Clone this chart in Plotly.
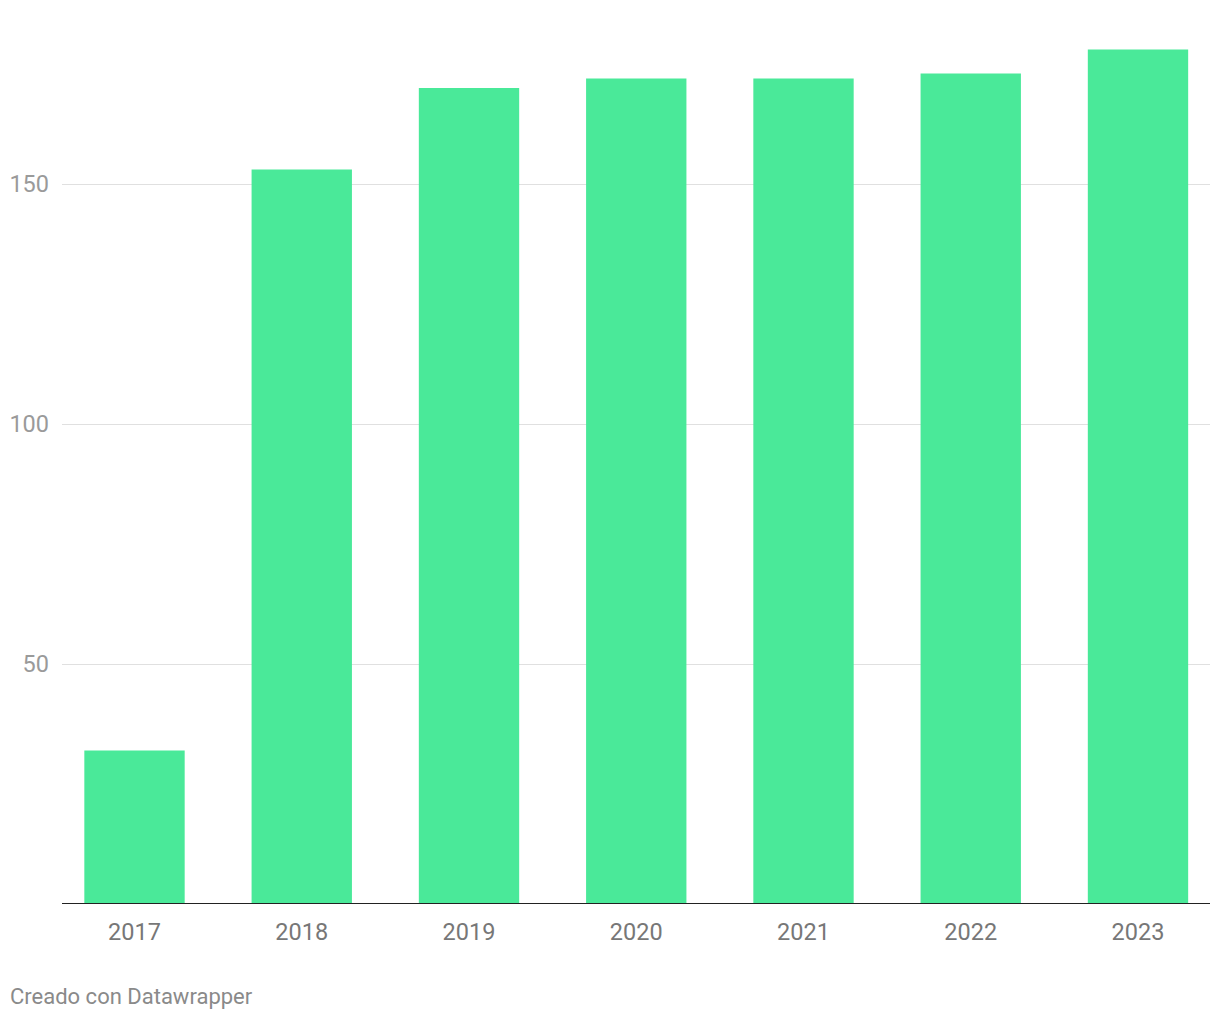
import plotly.graph_objects as go

years = ["2017", "2018", "2019", "2020", "2021", "2022", "2023"]
values = [32, 153, 170, 172, 172, 173, 178]
y_ticks = [50, 100, 150]

fig = go.Figure(go.Bar(
    x=list(range(len(years))), y=values, width=0.6,
    marker=dict(color="#4ae999", line=dict(width=0)),
    hoverinfo="skip",
))

fig.update_layout(
    width=1220, height=1020,
    margin=dict(l=54, r=18, t=0, b=124, autoexpand=False),
    paper_bgcolor="white", plot_bgcolor="white",
    font=dict(family="Roboto", size=23, color="#777"),
    showlegend=False,
    xaxis=dict(
        range=[-0.4335, 6.4305], tickmode="array",
        tickvals=list(range(len(years))), ticktext=years,
        showgrid=False, zeroline=False, showline=False,
        tickfont=dict(size=23.5, color="#777"), ticks="", ticklen=0,
        ticklabelstandoff=11, automargin=False, fixedrange=True,
    ),
    yaxis=dict(
        range=[0, 896 / 4.8], tickmode="array", tickvals=y_ticks,
        ticktext=[str(v) for v in y_ticks],
        showgrid=True, gridcolor="#e0e0e0", gridwidth=1.3,
        zeroline=False, showline=False,
        tickfont=dict(size=23.5, color="#9a9a9a"), ticks="",
        ticklabelstandoff=12, automargin=False, fixedrange=True,
    ),
    shapes=[dict(type="line", xref="paper", yref="y", x0=0, x1=1, y0=0, y1=0,
                 line=dict(color="#222", width=2))],
    annotations=[dict(text="Creado con Datawrapper", xref="paper", yref="paper",
                      x=-54/1148, y=-(988-896)/896, xanchor="left", yanchor="middle",
                      showarrow=False, font=dict(size=22, color="#8a8a8a"))],
)

fig.write_html("out.html")
